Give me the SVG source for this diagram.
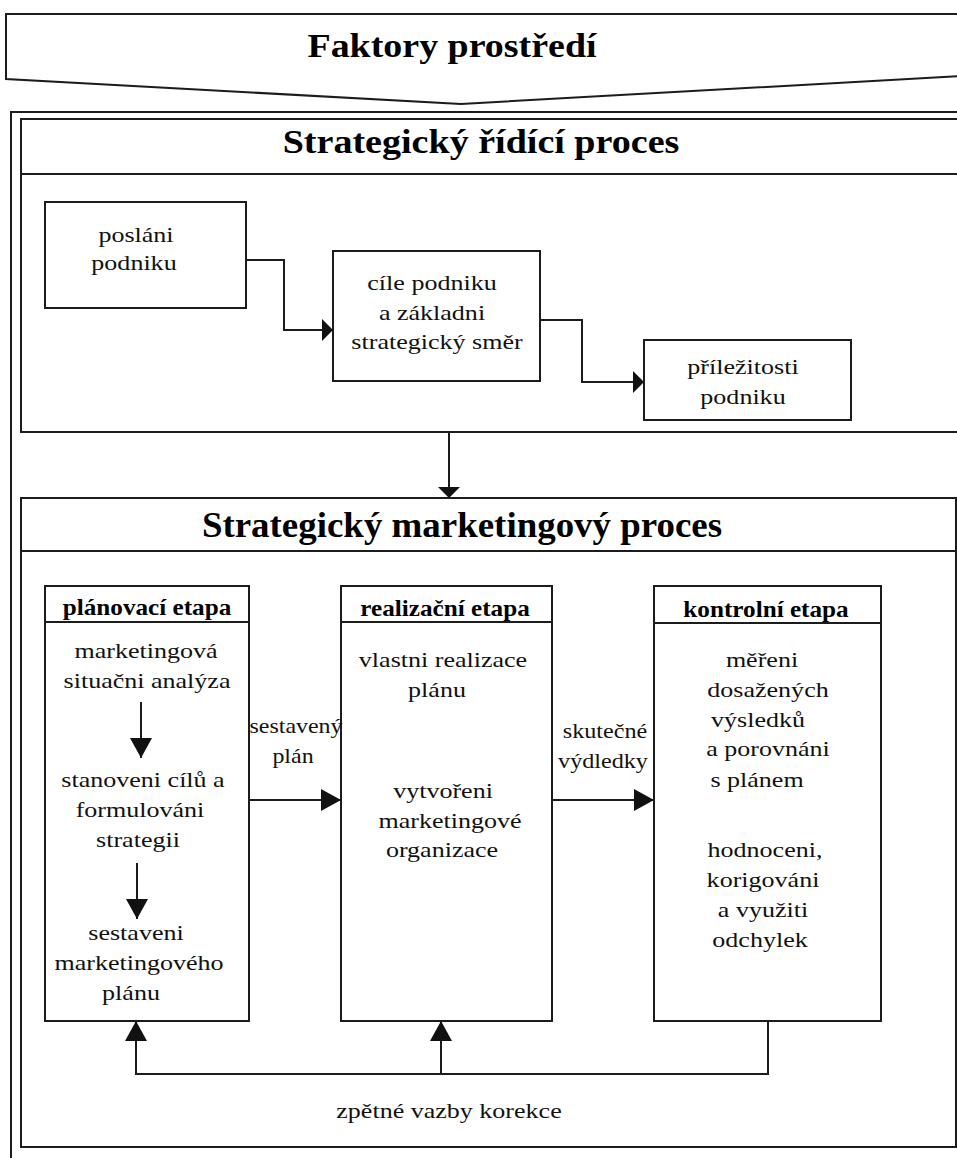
<svg xmlns="http://www.w3.org/2000/svg" width="957" height="1158" viewBox="0 0 957 1158">
<style>
.ln{fill:none;stroke:#1c1c1c;stroke-width:2}
.bx{fill:#fff;stroke:#1c1c1c;stroke-width:2}
.t{font-family:"Liberation Serif","Times New Roman",serif;font-size:21px;fill:#111;text-anchor:middle}
.h{font-family:"Liberation Serif","Times New Roman",serif;font-size:24px;font-weight:bold;fill:#000;text-anchor:middle}
.ti{font-family:"Liberation Serif","Times New Roman",serif;font-size:34px;font-weight:bold;fill:#000;text-anchor:middle}
</style>
<defs>
<marker id="as" viewBox="0 0 11 22" markerWidth="11" markerHeight="22" refX="11" refY="11" orient="auto" markerUnits="userSpaceOnUse"><path d="M0,0 L11,11 L0,22 z" fill="#111"/></marker>
<marker id="al" viewBox="0 0 20 22" markerWidth="20" markerHeight="22" refX="20" refY="11" orient="auto" markerUnits="userSpaceOnUse"><path d="M0,0 L20,11 L0,22 z" fill="#111"/></marker>
</defs>
<rect x="0" y="0" width="957" height="1158" fill="#fff"/>

<g id="faktory">
<path class="ln" d="M962,14 H6 V79 L461,104 L962,76"/>
<text class="ti" transform="translate(452,57) scale(1.15,1)" style="font-size:33px">Faktory prostředí</text>
</g>

<g id="outer-frame">
<path class="ln" d="M962,112 H11 V1162"/>
</g>

<g id="strategicky-ridici-proces">
<rect class="bx" x="21" y="119" width="940" height="313"/>
<line class="ln" x1="21" y1="174" x2="961" y2="174"/>
<text class="ti" transform="translate(481,153) scale(1.12,1)">Strategický řídící proces</text>
</g>

<g id="poslani">
<rect class="bx" x="45" y="202" width="201" height="106"/>
<text class="t" transform="translate(136,242) scale(1.24,1)">posláni</text>
<text class="t" transform="translate(134,270) scale(1.24,1)">podniku</text>
</g>

<g id="cile">
<rect class="bx" x="333" y="251" width="207" height="130"/>
<text class="t" transform="translate(432,290) scale(1.24,1)">cíle podniku</text>
<text class="t" transform="translate(432,320) scale(1.24,1)">a základni</text>
<text class="t" transform="translate(437,349) scale(1.24,1)">strategický směr</text>
</g>

<g id="prilezitosti">
<rect class="bx" x="644" y="340" width="207" height="80"/>
<text class="t" transform="translate(743,374) scale(1.24,1)">příležitosti</text>
<text class="t" transform="translate(743,404) scale(1.24,1)">podniku</text>
</g>

<g id="strategicky-marketingovy-proces">
<rect class="bx" x="21" y="498" width="935" height="649"/>
<line class="ln" x1="21" y1="551" x2="956" y2="551"/>
<text class="ti" transform="translate(462,537) scale(1.055,1)" style="font-size:35px">Strategický marketingový proces</text>
</g>

<g id="planovaci">
<rect class="bx" x="45" y="586" width="204" height="435"/>
<line class="ln" x1="45" y1="622" x2="249" y2="622"/>
<text class="h" transform="translate(147,615) scale(1.05,1)">plánovací etapa</text>
<text class="t" transform="translate(146,658) scale(1.24,1)">marketingová</text>
<text class="t" transform="translate(147,688) scale(1.24,1)">situačni analýza</text>
<text class="t" transform="translate(143,787) scale(1.24,1)">stanoveni cílů a</text>
<text class="t" transform="translate(140,817) scale(1.24,1)">formulováni</text>
<text class="t" transform="translate(138,847) scale(1.24,1)">strategii</text>
<text class="t" transform="translate(136,940) scale(1.24,1)">sestaveni</text>
<text class="t" transform="translate(139,970) scale(1.24,1)">marketingového</text>
<text class="t" transform="translate(131,1000) scale(1.24,1)">plánu</text>
</g>

<g id="realizacni">
<rect class="bx" x="341" y="586" width="211" height="435"/>
<line class="ln" x1="341" y1="622" x2="552" y2="622"/>
<text class="h" transform="translate(445,616) scale(1.05,1)">realizační etapa</text>
<text class="t" transform="translate(443,667) scale(1.24,1)">vlastni realizace</text>
<text class="t" transform="translate(437,697) scale(1.24,1)">plánu</text>
<text class="t" transform="translate(443,798) scale(1.24,1)">vytvořeni</text>
<text class="t" transform="translate(450,828) scale(1.24,1)">marketingové</text>
<text class="t" transform="translate(442,857) scale(1.24,1)">organizace</text>
</g>

<g id="kontrolni">
<rect class="bx" x="654" y="586" width="227" height="435"/>
<line class="ln" x1="654" y1="623" x2="881" y2="623"/>
<text class="h" transform="translate(766,617) scale(1.05,1)">kontrolní etapa</text>
<text class="t" transform="translate(762,667) scale(1.24,1)">měřeni</text>
<text class="t" transform="translate(768,697) scale(1.24,1)">dosažených</text>
<text class="t" transform="translate(758,727) scale(1.24,1)">výsledků</text>
<text class="t" transform="translate(768,756) scale(1.24,1)">a porovnáni</text>
<text class="t" transform="translate(757,787) scale(1.24,1)">s plánem</text>
<text class="t" transform="translate(765,857) scale(1.24,1)">hodnoceni,</text>
<text class="t" transform="translate(763,887) scale(1.24,1)">korigováni</text>
<text class="t" transform="translate(763,917) scale(1.24,1)">a využiti</text>
<text class="t" transform="translate(760,947) scale(1.24,1)">odchylek</text>
</g>

<g id="connectors">
<path class="ln" d="M246,260 H284 V330 H333" marker-end="url(#as)"/>
<path class="ln" d="M540,320 H582 V382 H644" marker-end="url(#as)"/>
<path class="ln" d="M449,432 V498" marker-end="url(#as)"/>
<path class="ln" d="M141,702 V758" marker-end="url(#al)"/>
<path class="ln" d="M137,863 V919" marker-end="url(#al)"/>
<path class="ln" d="M249,800 H341" marker-end="url(#al)"/>
<path class="ln" d="M552,800 H654" marker-end="url(#al)"/>
<path class="ln" d="M768,1021 V1074 H136 V1021" marker-end="url(#al)"/>
<path class="ln" d="M441,1074 V1021" marker-end="url(#al)"/>
<text class="t" transform="translate(296,733) scale(1.14,1)">sestavený</text>
<text class="t" transform="translate(293,763) scale(1.14,1)">plán</text>
<text class="t" transform="translate(605,738) scale(1.15,1)">skutečné</text>
<text class="t" transform="translate(603,768) scale(1.15,1)">výdledky</text>
<text class="t" transform="translate(449,1118) scale(1.24,1)">zpětné vazby korekce</text>
</g>
</svg>
